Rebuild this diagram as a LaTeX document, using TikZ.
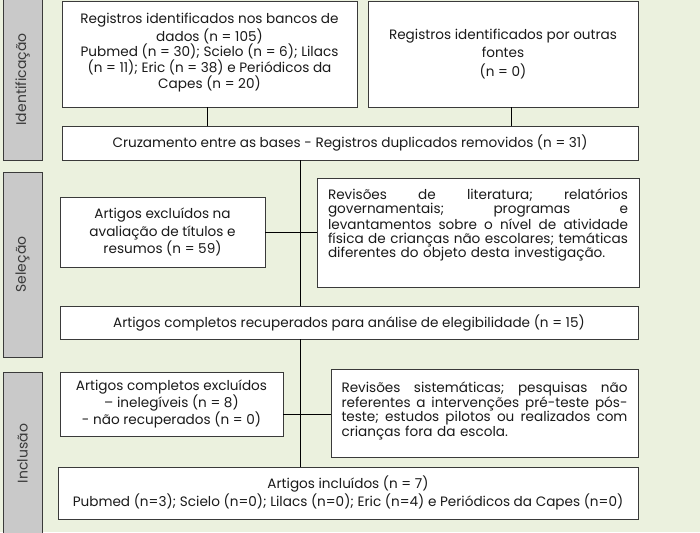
\documentclass[tikz,border=0pt]{standalone}
\usepackage{fontspec}
\setmainfont{Poppins}
\definecolor{bg}{HTML}{EBF1DE}
\definecolor{bar}{HTML}{C9C9C9}
\definecolor{edge}{HTML}{3A3A3A}
\definecolor{txt}{HTML}{1A1A1A}
\newcommand{\jlinebox}[2]{\leavevmode\hbox to #1{#2}}
\begin{document}
\begin{tikzpicture}[x=1pt,y=-1pt,
  box/.style={draw=edge,line width=0.9pt,fill=white,inner sep=0pt,text=txt,align=center,font=\fontsize{13.6}{15.8}\selectfont},
  sidebar/.style={draw=edge,line width=0.9pt,fill=bar,inner sep=0pt},
  sidelabel/.style={rotate=90,text=edge,font=\fontsize{14}{16}\selectfont},
  link/.style={draw=black,line width=0.8pt}]
\fill[bg] (0,0) rectangle (700,532);
\useasboundingbox (0,0) rectangle (700,532);
% side bars
\node[sidebar,minimum width=39pt,minimum height=162pt] (s1) at (22.5,79.5) {};
\node[sidelabel] (l1) at (s1.center) {Identificação};
\node[sidebar,minimum width=39pt,minimum height=185pt] (s2) at (22.5,264.5) {};
\node[sidelabel] (l2) at (s2.center) {Seleção};
\node[sidebar,minimum width=39pt,minimum height=163pt] (s3) at (22.5,453.5) {};
\node[sidelabel] (l3) at (s3.center) {Inclusão};
% boxes
\node[box,minimum width=295pt,minimum height=106pt] (A) at (209.5,54) {Registros identificados nos bancos de\\dados (n = 105)\\Pubmed (n = 30); Scielo (n = 6); Lilacs\\(n = 11); Eric (n = 38) e Periódicos da\\Capes (n = 20)\\[-9.8pt]\mbox{}};
\node[box,minimum width=270pt,minimum height=106pt,font=\fontsize{13.6}{18.5}\selectfont] (B) at (503,54) {Registros identificados por outras\\fontes\\(n = 0)};
\node[box,minimum width=576pt,minimum height=34pt] (C) at (350,143) {Cruzamento entre as bases - Registros duplicados removidos (n = 31)};
\node[box,minimum width=205pt,minimum height=70pt,font=\fontsize{13.6}{17.3}\selectfont] (D) at (162.5,232) {Artigos excluídos na\\avaliação de títulos e\\resumos (n = 59)};
\node[box,minimum width=322pt,minimum height=109pt,text width=300pt,align=left,font=\fontsize{13.6}{14}\selectfont] (E) at (478,232.5) {\jlinebox{300pt}{Revisões\hfill de\hfill literatura;\hfill relatórios}\\\jlinebox{300pt}{governamentais;\hfill programas\hfill e}\\\jlinebox{300pt}{levantamentos\hfill sobre\hfill o\hfill nível\hfill de\hfill atividade}\\\jlinebox{300pt}{física\hfill de\hfill crianças\hfill não\hfill escolares;\hfill temáticas}\\diferentes do objeto desta investigação.\\[5pt]\mbox{}};
\node[box,minimum width=578pt,minimum height=33pt] (F) at (349,322.5) {Artigos completos recuperados para análise de elegibilidade (n = 15)};
\node[box,minimum width=223pt,minimum height=64pt,font=\fontsize{13.6}{17.3}\selectfont] (G) at (171.5,404) {Artigos completos excluídos\\– inelegíveis (n = 8)\\- não recuperados (n = 0)};
\node[box,minimum width=307pt,minimum height=88pt,text width=286pt,align=left,font=\fontsize{13.6}{14.2}\selectfont] (H) at (484.5,413) {\jlinebox{286pt}{Revisões\hfill sistemáticas;\hfill pesquisas\hfill não}\\\jlinebox{286pt}{referentes\hfill a\hfill intervenções\hfill pré-teste\hfill pós-}\\\jlinebox{286pt}{teste;\hfill estudos\hfill pilotos\hfill ou\hfill realizados\hfill com}\\crianças fora da escola.\\[-6pt]\mbox{}};
\node[box,minimum width=580pt,minimum height=52pt,font=\fontsize{13.6}{17.3}\selectfont] (I) at (348,493) {Artigos incluídos (n = 7)\\Pubmed (n=3); Scielo (n=0); Lilacs (n=0); Eric (n=4) e Periódicos da Capes (n=0)};
% connectors
\coordinate (trunk) at (300,0);
\coordinate (g2) at (0,414);
\draw[link] ([xshift=-2.5pt]A.south) -- ([xshift=-2.5pt]A.south |- C.north);
\draw[link] ([xshift=8pt]B.south) -- ([xshift=8pt]B.south |- C.north);
\draw[link] (C.south -| trunk) -- (F.north -| trunk);
\draw[link] (D.east) -- (E.west |- D.east);
\draw[link] (F.south -| trunk) -- (I.north -| trunk);
\draw[link] (G.east |- g2) -- (H.west |- g2);
\end{tikzpicture}
\end{document}
